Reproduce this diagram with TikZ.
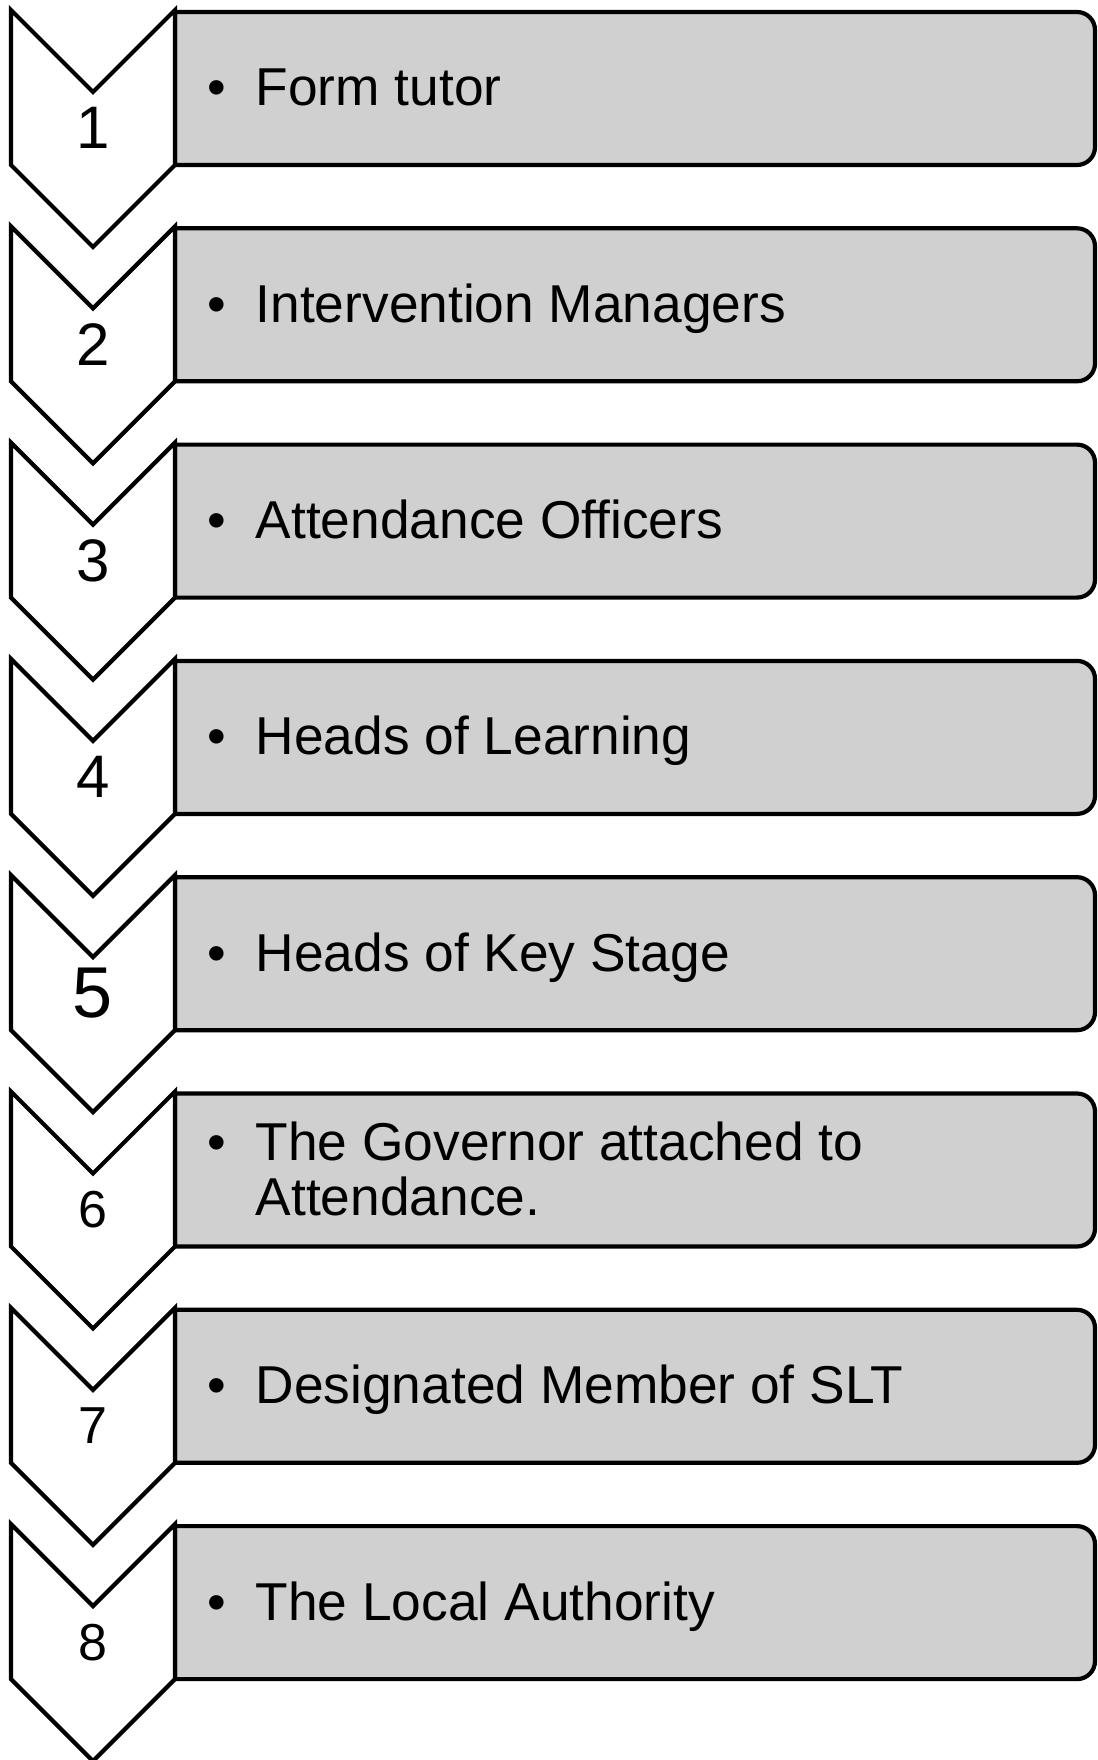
\documentclass[tikz,border=0pt]{standalone}
\usepackage{fontspec}
\setmainfont{Liberation Sans}
\definecolor{boxgray}{RGB}{208,208,208}
\begin{document}
\begin{tikzpicture}[x=1pt,y=-1pt,
  chev/.style={draw=black, fill=white, line width=4.2pt, line join=miter},
  itembox/.style={draw=black, fill=boxgray, line width=4.2pt, line join=miter},
  numlbl/.style={inner sep=0pt, anchor=center},
  itemtxt/.style={inner sep=0pt, anchor=base west, font=\fontsize{53.3}{55}\selectfont},
  bul/.style={inner sep=0pt, anchor=base, font=\fontsize{53.3}{55}\selectfont}]
\useasboundingbox (0,0) rectangle (1097,1760);
\foreach \k/\ns in {1/60, 2/60, 3/60, 4/60, 5/72, 6/52, 7/52, 8/52}{
  \pgfmathsetmacro{\T}{10+216.3*(\k-1)}
  % item box, rounded on the right only
  \draw[itembox] (175,\T+2) -- (1077,\T+2) arc[start angle=-90, end angle=0, radius=18]
    -- (1095,\T+137) arc[start angle=0, end angle=90, radius=18] -- (175,\T+155) -- cycle;
  % chevron
  \draw[chev] (11,\T) -- (93,\T+82) -- (175,\T) -- (175,\T+155) -- (93,\T+237) -- (11,\T+155) -- cycle;
  \node[numlbl, font=\fontsize{\ns}{\ns}\selectfont] (num\k) at (93,\T+118) {\k};
}
% texts
\foreach \k/\txt in {1/Form tutor, 2/Intervention Managers, 3/Attendance Officers,
  4/Heads of Learning, 5/Heads of Key Stage, 7/Designated Member of SLT, 8/The Local Authority}{
  \pgfmathsetmacro{\T}{10+216.3*(\k-1)}
  \node[bul] (bul\k) at (217,\T+96) {•};
  \node[itemtxt] (txt\k) at (255.5,\T+96) {\txt};
}
\pgfmathsetmacro{\T}{10+216.3*5}
\node[bul] (bul6) at (217,\T+68.5) {•};
\node[itemtxt] (txt6a) at (255.5,\T+68.5) {The Governor attached to};
\node[itemtxt] (txt6b) at (255.5,\T+123.5) {Attendance.};
\end{tikzpicture}
\end{document}
